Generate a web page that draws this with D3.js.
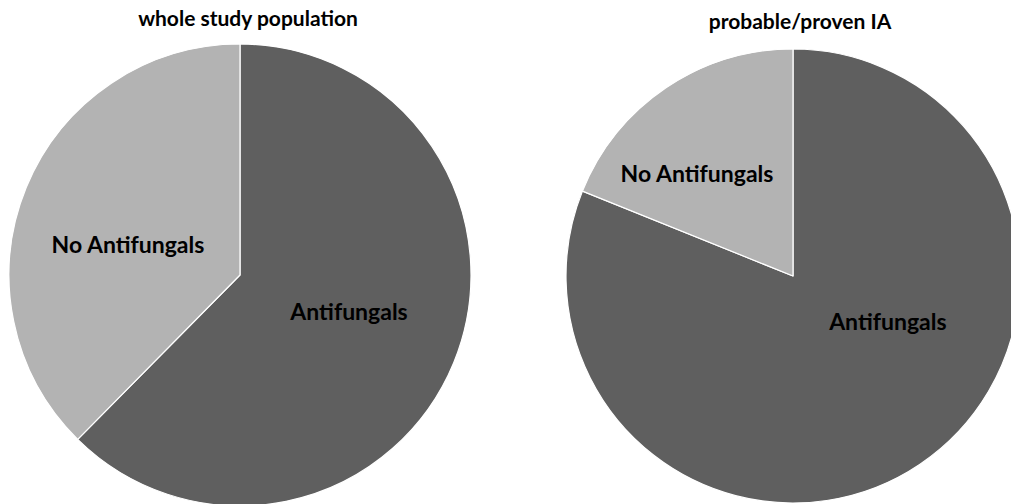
<!DOCTYPE html>
<html>
<head>
<meta charset="utf-8">
<script src="https://cdn.jsdelivr.net/npm/d3@7"></script>
<style>
  body { margin: 0; background: #fff; }
  text { font-family: Lato, "Open Sans", sans-serif; font-weight: bold; fill: #000; }
</style>
</head>
<body>
<script>
// data (percent of patients)
var categories = ["Antifungals", "No Antifungals"];
var titles = ["whole study population", "probable/proven IA"];
var wholePopulation = [62.4, 37.6];
var provenIA = [81.1, 18.9];

var width = 1011,
    height = 504;

var colors = ["#5f5f5f", "#b3b3b3"];

// layout of each pie: centre, radius, title centre, label spots (in radius units)
var pies = [
    {values: wholePopulation, title: titles[0], cx: 240, cy: 275, r: 231, tx: 248, ty: 26,
     labels: [[0.472, 0.16], [-0.485, -0.13]]},
    {values: provenIA, title: titles[1], cx: 793, cy: 276, r: 227, tx: 800, ty: 29,
     labels: [[0.418, 0.203], [-0.423, -0.449]]}
];

var svg = d3.select("body").append("svg")
    .attr("width", width)
    .attr("height", height);

var pie = d3.pie().sort(null); //keep Antifungals first, clockwise from 12 o'clock

pies.forEach(function (p) {
    var arc = d3.arc().innerRadius(0).outerRadius(p.r);

    var g = svg.append("g")
        .attr("transform", "translate(" + p.cx + "," + p.cy + ")");

    g.selectAll("path")
        .data(pie(p.values))
        .enter().append("path")
        .attr("d", arc)
        .attr("fill", function (d, i) { return colors[i]; })
        .attr("stroke", "#fff")
        .attr("stroke-width", 1.2)
        .attr("stroke-linejoin", "round");

    g.selectAll(".label")
        .data(categories)
        .enter().append("text")
        .attr("class", "label")
        .attr("x", function (d, i) { return p.labels[i][0] * p.r; })
        .attr("y", function (d, i) { return p.labels[i][1] * p.r; })
        .attr("dy", "0.35em")
        .attr("text-anchor", "middle")
        .style("font-size", "23px")
        .text(function (d) { return d; });

    svg.append("text")
        .attr("x", p.tx)
        .attr("y", p.ty)
        .attr("text-anchor", "middle")
        .style("font-size", "21px")
        .text(p.title);
});
</script>
</body>
</html>
